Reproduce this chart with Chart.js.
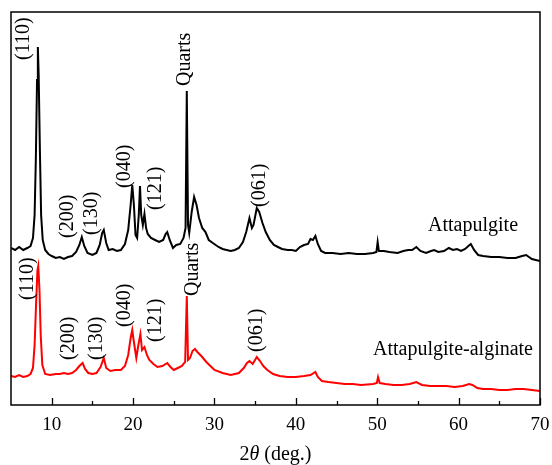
<!DOCTYPE html>
<html>
<head>
<meta charset="utf-8">
<script src="https://cdn.jsdelivr.net/npm/chart.js@4"></script>
<style>
  html, body { margin: 0; padding: 0; background: #fff; }
  canvas { display: block; }
</style>
</head>
<body>
<canvas id="chartXrd" width="552" height="465"></canvas>
<script>
// 2θ (deg.) vs intensity (arbitrary units)
const attapulgite = [
    [5.0, 157], [5.5, 155], [6.0, 158], [6.5, 155], [7.0, 157], [7.4, 159], [7.7, 167],
    [7.9, 190], [8.05, 245], [8.2, 325], [8.3, 358], [8.4, 330], [8.55, 255], [8.7, 190],
    [8.9, 165], [9.2, 155], [9.6, 151], [10.0, 149], [10.5, 147], [11.0, 148], [11.5, 146],
    [12.0, 148], [12.5, 149], [13.0, 153], [13.4, 160], [13.7, 168], [14.0, 159], [14.4, 152],
    [15.0, 150], [15.5, 152], [15.9, 160], [16.2, 172], [16.4, 175], [16.7, 162], [17.0, 155],
    [17.5, 156], [18.0, 154], [18.5, 155], [19.0, 161], [19.4, 175], [19.7, 200], [19.9, 220],
    [20.1, 200], [20.3, 170], [20.5, 167], [20.7, 190], [20.85, 219], [21.0, 190], [21.2, 180],
    [21.4, 191], [21.6, 177], [21.8, 171], [22.2, 167], [22.7, 165], [23.2, 163], [23.7, 165],
    [24.0, 171], [24.2, 173], [24.5, 165], [24.9, 157], [25.3, 160], [25.8, 161], [26.2, 167],
    [26.45, 177], [26.6, 314], [26.75, 180], [26.9, 172], [27.2, 193], [27.5, 208], [27.8, 200],
    [28.1, 187], [28.5, 177], [28.9, 173], [29.3, 165], [29.8, 162], [30.5, 158], [31.0, 156],
    [31.5, 155], [32.0, 154], [32.5, 155], [33.0, 157], [33.5, 163], [33.9, 173], [34.3, 187],
    [34.6, 177], [34.8, 180], [35.2, 197], [35.5, 193], [35.9, 182], [36.3, 173], [36.8, 165],
    [37.3, 160], [37.8, 158], [38.3, 156], [39.0, 155], [39.5, 155], [40.0, 154], [40.5, 158],
    [41.0, 160], [41.5, 161], [41.8, 166], [42.1, 165], [42.4, 169], [42.7, 161], [43.1, 154],
    [43.6, 152], [44.5, 152], [45.5, 151], [46.5, 152], [47.5, 151], [48.5, 151], [49.5, 152],
    [49.9, 153], [50.05, 163], [50.2, 154], [50.8, 154], [51.5, 153], [52.5, 152], [53.2, 154],
    [53.8, 155], [54.3, 155], [54.8, 158], [55.3, 154], [56.0, 152], [56.6, 154], [57.0, 155],
    [57.5, 153], [58.2, 154], [58.8, 157], [59.3, 155], [59.8, 156], [60.3, 154], [60.8, 156],
    [61.2, 159], [61.5, 161], [61.9, 155], [62.4, 150], [63.0, 149], [64.0, 148], [65.0, 148],
    [66.0, 147], [67.0, 147], [67.8, 149], [68.3, 150], [69.0, 146], [70.0, 144]
];

const attapulgiteAlginate = [
    [5.0, 29], [5.5, 28], [6.0, 30], [6.5, 28], [7.0, 29], [7.4, 31], [7.7, 37], [7.9, 60],
    [8.1, 105], [8.25, 135], [8.35, 139], [8.5, 115], [8.65, 70], [8.85, 40], [9.2, 31],
    [9.8, 30], [10.5, 31], [11.0, 31], [11.5, 32], [12.0, 31], [12.5, 32], [13.0, 35],
    [13.4, 39], [13.8, 42], [14.1, 36], [14.5, 32], [15.0, 31], [15.5, 32], [16.0, 38],
    [16.4, 47], [16.7, 37], [17.2, 34], [17.8, 35], [18.5, 35], [19.0, 39], [19.4, 50],
    [19.7, 67], [19.9, 75], [20.1, 63], [20.4, 47], [20.65, 60], [20.9, 71], [21.1, 55],
    [21.4, 58], [21.7, 50], [22.0, 45], [22.5, 41], [23.0, 38], [23.6, 39], [24.2, 42],
    [24.6, 38], [25.0, 35], [25.5, 37], [26.0, 39], [26.4, 43], [26.6, 109], [26.75, 45],
    [27.0, 47], [27.3, 54], [27.6, 56], [27.9, 53], [28.5, 48], [29.0, 43], [29.5, 39],
    [30.0, 35], [31.0, 32], [32.0, 30], [33.0, 32], [33.6, 37], [34.0, 42], [34.3, 44],
    [34.7, 41], [35.2, 48], [35.6, 44], [36.0, 39], [36.5, 35], [37.2, 31], [38.0, 29],
    [39.0, 28], [40.0, 28], [41.0, 29], [41.8, 30], [42.4, 33], [42.7, 28], [43.2, 24],
    [44.0, 23], [45.0, 22], [46.0, 21], [47.0, 21], [48.0, 20], [49.5, 21], [49.95, 22],
    [50.1, 28], [50.3, 22], [51.0, 21], [52.0, 20], [53.0, 20], [54.0, 21], [54.8, 23],
    [55.5, 20], [56.5, 19], [57.5, 19], [58.5, 19], [59.5, 18], [60.5, 19], [61.3, 21],
    [61.7, 20], [62.3, 17], [63.0, 16], [64.0, 16], [65.0, 15], [66.0, 15], [67.0, 16],
    [68.0, 16], [69.0, 15], [70.0, 14]
];

// peak labels: text, 2θ of label, intensity at label start
const peakLabelsTop = [
    ["(110)", 6.6, 345], ["(200)", 12.0, 167], ["(130)", 14.95, 170], ["(040)", 19.0, 217],
    ["(121)", 22.8, 195], ["Quarts", 26.4, 319], ["(061)", 35.6, 198]
];
const peakLabelsBottom = [
    ["(110)", 7.05, 105], ["(200)", 12.13, 45], ["(130)", 15.57, 45], ["(040)", 19.0, 78],
    ["(121)", 22.8, 63], ["Quarts", 27.36, 109], ["(061)", 35.23, 53]
];
// series names: text, right end 2θ, intensity
const seriesNames = [["Attapulgite", 67.3, 179], ["Attapulgite-alginate", 69.14, 55]];

const xMajorTicks = [10, 20, 30, 40, 50, 60, 70];
const xMinorTicks = [15, 25, 35, 45, 55, 65];

const SERIF = "'Liberation Serif', 'DejaVu Serif', serif";

const toPoints = (arr) => arr.map(([x, y]) => ({ x, y }));

const framePlugin = {
    id: "frame",
    afterDraw(chart) {
        const { ctx, chartArea: a, scales } = chart;
        const sx = scales.x, sy = scales.y;
        ctx.save();
        ctx.strokeStyle = "#000";
        ctx.lineWidth = 1.5;
        ctx.strokeRect(a.left, a.top, a.right - a.left, a.bottom - a.top);

        ctx.lineWidth = 1.3;
        ctx.beginPath();
        xMajorTicks.forEach((v) => {
            const px = Math.round(sx.getPixelForValue(v)) + 0.5;
            ctx.moveTo(px, a.bottom);
            ctx.lineTo(px, a.bottom - 7);
        });
        xMinorTicks.forEach((v) => {
            const px = Math.round(sx.getPixelForValue(v)) + 0.5;
            ctx.moveTo(px, a.bottom);
            ctx.lineTo(px, a.bottom - 4);
        });
        ctx.stroke();

        // peak labels, rotated
        ctx.fillStyle = "#000";
        ctx.font = "20px " + SERIF;
        ctx.textAlign = "left";
        ctx.textBaseline = "middle";
        peakLabelsTop.concat(peakLabelsBottom).forEach(([t, x, y]) => {
            ctx.save();
            ctx.translate(sx.getPixelForValue(x), sy.getPixelForValue(y));
            ctx.rotate(-Math.PI / 2);
            ctx.fillText(t, 0, 0);
            ctx.restore();
        });

        ctx.textAlign = "right";
        seriesNames.forEach(([t, x, y]) => {
            ctx.fillText(t, sx.getPixelForValue(x), sy.getPixelForValue(y));
        });

        // axis title with italic theta
        const cx = (a.left + a.right) / 2;
        const ty = 455;
        const parts = [["2", "20px "], ["θ", "italic 20px "], [" (deg.)", "20px "]];
        let total = 0;
        parts.forEach(([t, f]) => { ctx.font = f + SERIF; total += ctx.measureText(t).width; });
        let x0 = cx - total / 2;
        ctx.textAlign = "left";
        parts.forEach(([t, f]) => {
            ctx.font = f + SERIF;
            ctx.fillText(t, x0, ty);
            x0 += ctx.measureText(t).width;
        });
        ctx.restore();
    },
};

document.addEventListener("DOMContentLoaded", () => {
    const canvas = document.getElementById("chartXrd");
    new Chart(canvas, {
        type: "line",
        data: {
            datasets: [
                {
                    label: "Attapulgite",
                    data: toPoints(attapulgite),
                    borderColor: "#000",
                    borderWidth: 2,
                    pointRadius: 0,
                    tension: 0,
                },
                {
                    label: "Attapulgite-alginate",
                    data: toPoints(attapulgiteAlginate),
                    borderColor: "#ff0000",
                    borderWidth: 2,
                    pointRadius: 0,
                    tension: 0,
                },
            ],
        },
        options: {
            responsive: false,
            animation: false,
            events: [],
            layout: { padding: { top: 12, left: 11, right: 12, bottom: 0 } },
            plugins: { legend: { display: false }, tooltip: { enabled: false } },
            scales: {
                x: {
                    type: "linear",
                    min: 5,
                    max: 70,
                    grid: { display: false, drawTicks: false },
                    border: { display: false },
                    afterBuildTicks: (s) => { s.ticks = xMajorTicks.map((v) => ({ value: v })); },
                    afterFit: (s) => {
                        s.height = 60;
                        s.paddingLeft = 0;
                        s.paddingRight = 0;
                    },
                    ticks: {
                        color: "#000",
                        padding: 9,
                        maxRotation: 0,
                        font: { family: SERIF, size: 19 },
                    },
                },
                y: { display: false, min: 0, max: 393 },
            },
        },
        plugins: [framePlugin],
    });
});
</script>
</body>
</html>
